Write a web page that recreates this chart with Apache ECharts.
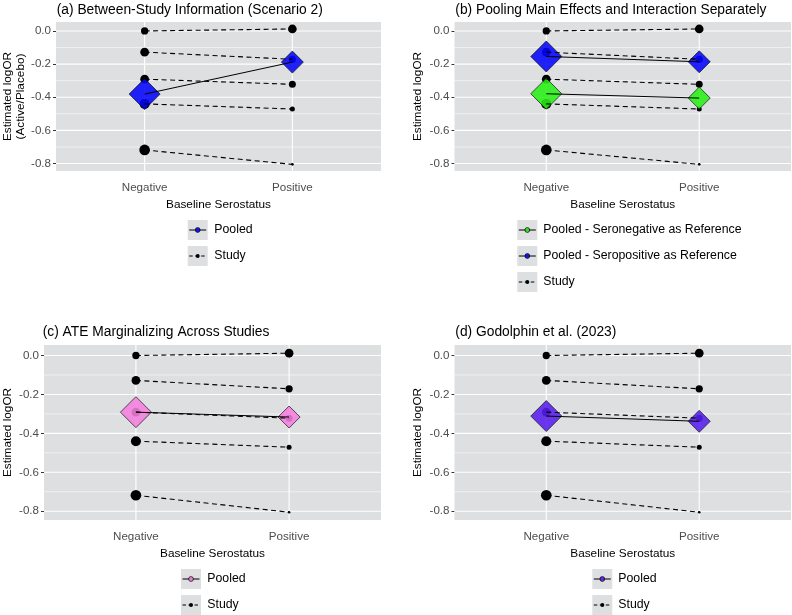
<!DOCTYPE html>
<html>
<head>
<meta charset="utf-8">
<script src="https://cdn.jsdelivr.net/npm/echarts@6/dist/echarts.min.js"></script>
<style>
html,body{margin:0;padding:0;background:#fff;}
#chart{width:792px;height:615px;}
</style>
</head>
<body>
<div id="chart"></div>
<script>
// ---------------- data ----------------
const categories = ['Negative', 'Positive'];
const yTicks = [0, -0.2, -0.4, -0.6, -0.8];
const yMinorTicks = [-0.1, -0.3, -0.5, -0.7];

// five studies: estimated logOR by baseline serostatus
const studyNeg = [0.000, -0.128, -0.291, -0.440, -0.718];
const studyPos = [0.012, -0.171, -0.322, -0.471, -0.805];
// relative study weights (mapped to point area)
const studyWeightNeg = [53, 76, 76, 100, 114];
const studyWeightPos = [76, 53, 49, 25, 7];

// pooled estimates [Negative, Positive]
const pooledA = [-0.381, -0.188];
const pooledB_seroNegRef = [-0.379, -0.405];
const pooledB_seroPosRef = [-0.154, -0.186];
const pooledC = [-0.291, -0.316];
const pooledD = [-0.311, -0.338];
const pooledWeight = [961, 484];

const panelTitles = [
  '(a) Between-Study Information (Scenario 2)',
  '(b) Pooling Main Effects and Interaction Separately',
  '(c) ATE Marginalizing Across Studies',
  '(d) Godolphin et al. (2023)'
];
const yAxisTitles = ['Estimated logOR\n(Active/Placebo)', 'Estimated logOR', 'Estimated logOR', 'Estimated logOR'];
const xAxisTitle = 'Baseline Serostatus';
const legendLabels = [
  ['Pooled', 'Study'],
  ['Pooled - Seronegative as Reference', 'Pooled - Seropositive as Reference', 'Study'],
  ['Pooled', 'Study'],
  ['Pooled', 'Study']
];

// ---------------- styling / layout ----------------
const FONT = '"Liberation Sans", Arial, Helvetica, sans-serif';
const PANEL_BG = '#DEDFE1';
const COL_BLUE = 'rgba(5,5,250,0.88)';
const COL_GREEN = 'rgba(40,240,20,0.88)';
const COL_PINK = 'rgba(245,128,222,0.88)';
const COL_VIOLET = 'rgba(86,30,236,0.88)';

const panelPooled = [
  [{vals: pooledA, color: COL_BLUE}],
  [{vals: pooledB_seroNegRef, color: COL_GREEN}, {vals: pooledB_seroPosRef, color: COL_BLUE}],
  [{vals: pooledC, color: COL_PINK}],
  [{vals: pooledD, color: COL_VIOLET}]
];
const legendColors = [
  [COL_BLUE, '#000'],
  [COL_GREEN, COL_BLUE, '#000'],
  [COL_PINK, '#000'],
  [COL_VIOLET, '#000']
];

const grids = [
  {left: 56, top: 22, width: 325, height: 149},
  {left: 454.5, top: 22, width: 336.5, height: 149},
  {left: 43, top: 345, width: 338, height: 175},
  {left: 454.5, top: 345, width: 336.5, height: 175}
];
const titlePos = [
  {left: 56.7, top: 3},
  {left: 455.3, top: 3},
  {left: 42.7, top: 325},
  {left: 455.3, top: 325}
];
// legend layout: key box left x, first key top y, text left x
const legendLayout = [
  {kx: 187.7, ky: 220, tx: 214.3},
  {kx: 517.3, ky: 220, tx: 543.3},
  {kx: 181, ky: 569, tx: 207.3},
  {kx: 592.3, ky: 569, tx: 618.3}
];
const KEY = 20, KEY_STEP = 26;

const X_MIN = 0.4, X_MAX = 2.6;
const Y_MIN = -0.845, Y_MAX = 0.054;

const xAxes = [], yAxes = [], series = [], graphics = [], titles = [];

function gridLineSeries(p, data, width) {
  return {
    type: 'line', xAxisIndex: p, yAxisIndex: p, z: 1, symbol: 'none', silent: true,
    lineStyle: {color: '#fff', width: width, type: 'solid'}, data: data
  };
}

for (let p = 0; p < 4; p++) {
  titles.push({
    text: panelTitles[p], left: titlePos[p].left, top: titlePos[p].top, padding: 0,
    textStyle: {fontSize: 13.8, fontWeight: 'normal', color: '#000', fontFamily: FONT}
  });
  xAxes.push({
    type: 'value', gridIndex: p, min: X_MIN, max: X_MAX,
    axisLine: {show: false},
    axisTick: {show: true, customValues: [1, 2], length: 3, lineStyle: {color: '#333', width: 1}},
    axisLabel: {customValues: [1, 2], formatter: v => categories[Math.round(v) - 1], margin: 10.5,
      color: '#4D4D4D', fontSize: 11.6, fontFamily: FONT},
    splitLine: {show: false},
    name: xAxisTitle, nameLocation: 'middle', nameGap: 28,
    nameTextStyle: {color: '#000', fontSize: 11.8, fontFamily: FONT}
  });
  yAxes.push({
    type: 'value', gridIndex: p, min: Y_MIN, max: Y_MAX,
    axisLine: {show: false},
    axisTick: {show: true, customValues: yTicks, length: 3, lineStyle: {color: '#333', width: 1}},
    axisLabel: {customValues: yTicks, formatter: v => v.toFixed(1), margin: 5,
      color: '#4D4D4D', fontSize: 11.6, fontFamily: FONT},
    splitLine: {show: false},
    name: yAxisTitles[p], nameLocation: 'middle', nameRotate: 90, nameGap: p === 0 ? 29 : 30,
    nameTextStyle: {color: '#000', fontSize: 11.8, lineHeight: 13, fontFamily: FONT}
  });

  // panel grid lines (white), at the tick values
  yMinorTicks.forEach(v => series.push(gridLineSeries(p, [[X_MIN, v], [X_MAX, v]], 0.55)));
  yTicks.forEach(v => series.push(gridLineSeries(p, [[X_MIN, v], [X_MAX, v]], 1.1)));
  [1, 2].forEach(v => series.push(gridLineSeries(p, [[v, Y_MIN], [v, Y_MAX]], 1.1)));

  // study points
  const pts = [];
  for (let i = 0; i < studyNeg.length; i++) {
    pts.push({value: [1, studyNeg[i]], symbolSize: Math.sqrt(studyWeightNeg[i])});
    pts.push({value: [2, studyPos[i]], symbolSize: Math.sqrt(studyWeightPos[i])});
  }
  series.push({
    type: 'scatter', xAxisIndex: p, yAxisIndex: p, z: 2, symbol: 'circle',
    itemStyle: {color: '#000', opacity: 1}, data: pts, silent: true
  });

  // pooled diamonds
  panelPooled[p].forEach(pp => {
    series.push({
      type: 'scatter', xAxisIndex: p, yAxisIndex: p, z: 3, symbol: 'diamond', silent: true,
      itemStyle: {color: pp.color, opacity: 1, borderColor: '#111', borderWidth: 0.7},
      data: [
        {value: [1, pp.vals[0]], symbolSize: Math.sqrt(pooledWeight[0])},
        {value: [2, pp.vals[1]], symbolSize: Math.sqrt(pooledWeight[1])}
      ]
    });
  });

  // study dashed lines
  for (let i = 0; i < studyNeg.length; i++) {
    series.push({
      type: 'line', xAxisIndex: p, yAxisIndex: p, z: 4, symbol: 'none', silent: true,
      lineStyle: {color: '#000', width: 1.1, type: [5, 3.5]},
      data: [[1, studyNeg[i]], [2, studyPos[i]]]
    });
  }
  // pooled solid lines
  panelPooled[p].forEach(pp => {
    series.push({
      type: 'line', xAxisIndex: p, yAxisIndex: p, z: 4, symbol: 'none', silent: true,
      lineStyle: {color: '#000', width: 1},
      data: [[1, pp.vals[0]], [2, pp.vals[1]]]
    });
  });

  // legend (drawn keys + text)
  const L = legendLayout[p];
  legendLabels[p].forEach((lab, k) => {
    const y0 = L.ky + k * KEY_STEP;
    const isStudy = lab === 'Study';
    graphics.push({type: 'rect', shape: {x: L.kx, y: y0, width: KEY, height: KEY}, style: {fill: PANEL_BG}, silent: true});
    graphics.push({type: 'line', shape: {x1: L.kx + 1.5, y1: y0 + KEY / 2, x2: L.kx + KEY - 1.5, y2: y0 + KEY / 2},
      style: {stroke: '#000', lineWidth: 1, lineDash: isStudy ? [3.5, 2.5] : null}, silent: true});
    graphics.push({type: 'circle', shape: {cx: L.kx + KEY / 2, cy: y0 + KEY / 2, r: isStudy ? 2 : 2.4},
      style: {fill: legendColors[p][k], stroke: '#000', lineWidth: isStudy ? 0 : 0.7}, silent: true});
    graphics.push({type: 'text', x: L.tx, y: y0 + KEY / 2, silent: true,
      style: {text: lab, fill: '#000', font: '12.3px ' + FONT, align: 'left', verticalAlign: 'middle',
        textAlign: 'left', textVerticalAlign: 'middle'}});
  });
}

const chart = echarts.init(document.getElementById('chart'), null, {renderer: 'canvas'});
chart.setOption({
  backgroundColor: '#fff',
  animation: false,
  title: titles,
  grid: grids.map(g => Object.assign({show: true, backgroundColor: PANEL_BG, borderWidth: 0, containLabel: false}, g)),
  xAxis: xAxes,
  yAxis: yAxes,
  series: series,
  graphic: graphics
});
</script>
</body>
</html>
